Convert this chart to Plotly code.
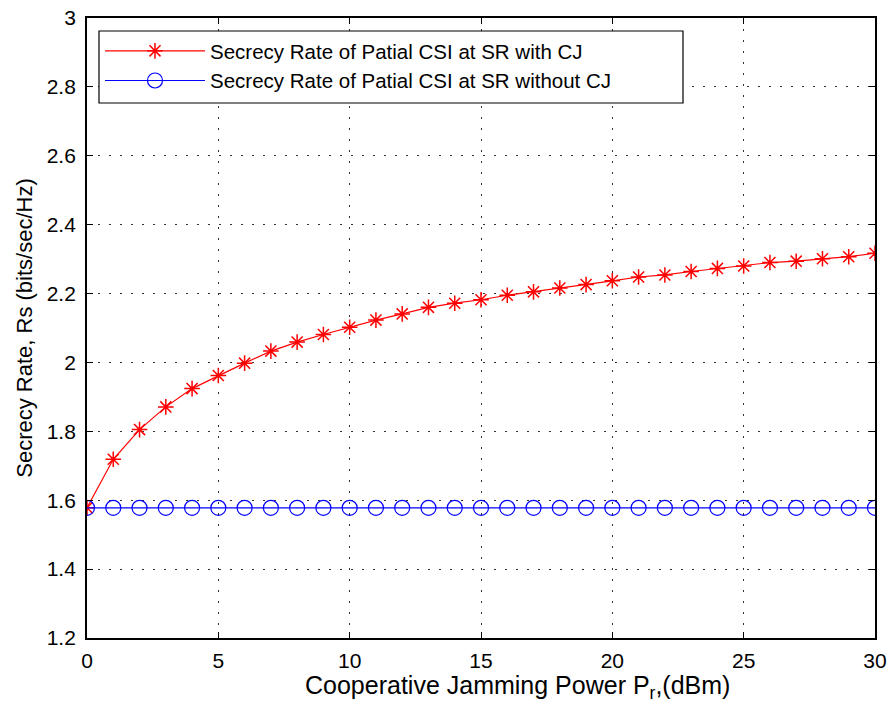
import plotly.graph_objects as go

x_dbm = list(range(0, 31))
rate_with_cj = [1.578, 1.719, 1.805, 1.871, 1.924, 1.962, 1.998, 2.033, 2.059, 2.081,
                2.102, 2.123, 2.141, 2.160, 2.172, 2.182, 2.195, 2.205, 2.216, 2.226,
                2.237, 2.248, 2.254, 2.264, 2.273, 2.280, 2.290, 2.294, 2.301, 2.307, 2.317]
rate_without_cj = [1.578] * 31

name_with = "Secrecy Rate of Patial CSI at SR with CJ"
name_without = "Secrecy Rate of Patial CSI at SR without CJ"

x_ticks = [0, 5, 10, 15, 20, 25, 30]
y_ticks = [1.2, 1.4, 1.6, 1.8, 2, 2.2, 2.4, 2.6, 2.8, 3]

fig = go.Figure()
fig.add_trace(go.Scatter(
    x=x_dbm, y=rate_with_cj, mode="lines+markers", name=name_with,
    line=dict(color="#ff0000", width=1.2),
    marker=dict(symbol="asterisk-open", size=13, color="#ff0000",
                line=dict(color="#ff0000", width=1.5)),
))
fig.add_trace(go.Scatter(
    x=x_dbm, y=rate_without_cj, mode="lines+markers", name=name_without,
    line=dict(color="#0000ff", width=1.2),
    marker=dict(symbol="circle-open", size=15, color="#0000ff",
                line=dict(color="#0000ff", width=1.2)),
))

axis_common = dict(
    showline=True, linecolor="black", linewidth=1.8, mirror="ticks",
    ticks="inside", ticklen=6, tickcolor="black", tickwidth=1,
    showgrid=True, gridcolor="#333333", griddash="2px,9px", gridwidth=1,
    zeroline=False, tickfont=dict(size=21, color="black"),
    automargin=False,
)

fig.update_xaxes(range=[0, 30], tickvals=x_ticks, ticktext=[str(v) for v in x_ticks],
                 ticklabelstandoff=3, **axis_common)
fig.update_yaxes(range=[1.2, 3], tickvals=y_ticks, ticktext=[f"{v:g}" for v in y_ticks],
                 ticklabelstandoff=5,
                 title=dict(text="Secrecy Rate, Rs (bits/sec/Hz)",
                            font=dict(size=22, color="black"), standoff=8),
                 **axis_common)

fig.add_annotation(
    text="Cooperative Jamming Power P<sub>r</sub>,(dBm)",
    xref="paper", yref="paper", x=(517 - 87) / 788, y=-49 / 620,
    xanchor="center", yanchor="middle", showarrow=False,
    font=dict(size=25, color="black"),
)

# legend frame (white box with black border) behind the legend entries
fig.add_shape(
    type="rect", xref="paper", yref="paper",
    x0=(99 - 87) / 788, x1=(683 - 87) / 788,
    y0=1 - (103 - 18) / 620, y1=1 - (31 - 18) / 620,
    fillcolor="white", line=dict(color="black", width=1.2), layer="above",
)

fig.update_layout(
    width=888, height=702,
    margin=dict(l=87, r=13, t=18, b=64),
    paper_bgcolor="white", plot_bgcolor="white",
    font=dict(family="Liberation Sans, Arial, sans-serif", color="black"),
    legend=dict(x=13 / 788, y=1 - (66 - 18) / 620, xanchor="left", yanchor="middle",
                bgcolor="rgba(0,0,0,0)", borderwidth=0,
                font=dict(size=20.5, color="black"), itemwidth=100,
                tracegroupgap=0),
    showlegend=True,
)

fig.write_html("out.html")
